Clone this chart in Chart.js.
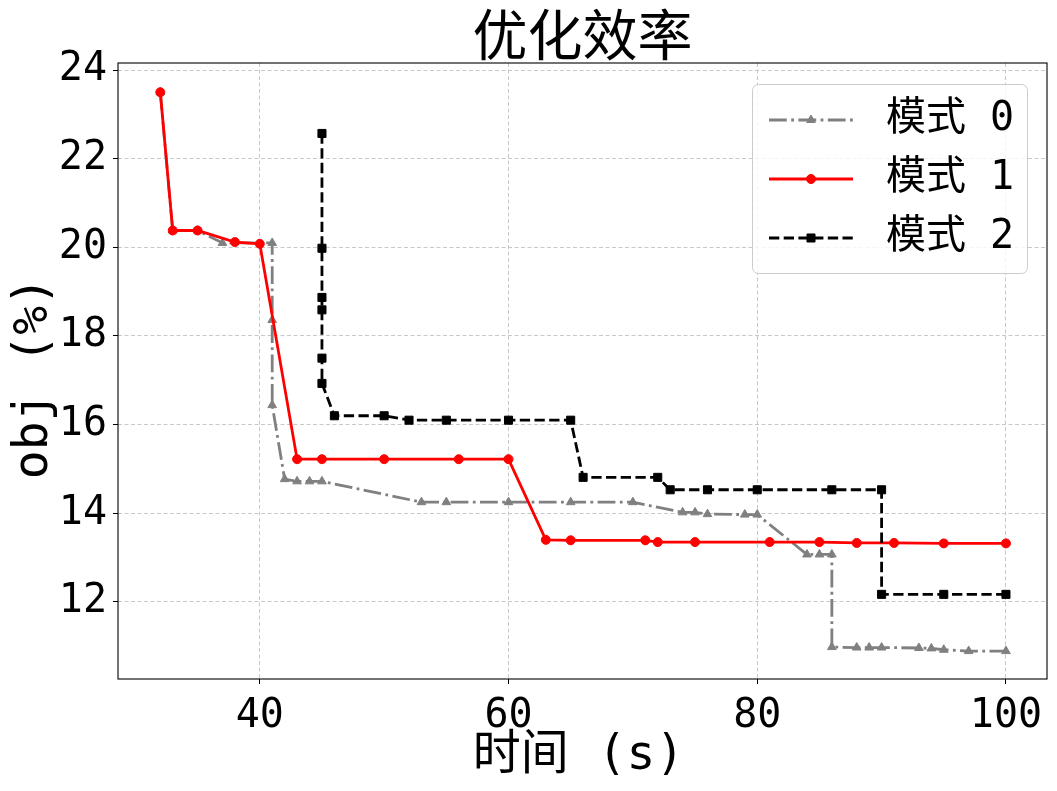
<!DOCTYPE html>
<html>
<head>
<meta charset="utf-8">
<script src="https://cdn.jsdelivr.net/npm/chart.js@4.4.1/dist/chart.umd.min.js"></script>
<style>
html,body{margin:0;padding:0;background:#fff;}
canvas{display:block;}
</style>
</head>
<body>
<canvas id="c" width="1057" height="791"></canvas>
<script>
// ---- data ----
const mode0X = [32, 33, 35, 37, 41, 41, 41, 42, 43, 44, 45, 53, 55, 60, 65, 70, 74, 75, 76, 79, 80, 84, 85, 86, 86, 88, 89, 90, 93, 94, 95, 97, 100];
const mode0Y = [23.5, 20.38, 20.38, 20.1, 20.1, 18.36, 16.44, 14.77, 14.72, 14.72, 14.72, 14.25, 14.25, 14.25, 14.25, 14.25, 14.02, 14.02, 13.98, 13.97, 13.97, 13.07, 13.07, 13.07, 10.98, 10.97, 10.97, 10.97, 10.96, 10.95, 10.92, 10.89, 10.89];
const mode1X = [32, 33, 35, 38, 40, 43, 45, 50, 56, 60, 63, 65, 71, 72, 75, 81, 85, 88, 91, 95, 100];
const mode1Y = [23.5, 20.38, 20.38, 20.12, 20.08, 15.22, 15.22, 15.22, 15.22, 15.22, 13.4, 13.39, 13.39, 13.35, 13.35, 13.35, 13.35, 13.33, 13.33, 13.32, 13.32];
const mode2X = [45, 45, 45, 45, 45, 45, 46, 50, 52, 55, 60, 65, 66, 72, 73, 76, 80, 86, 90, 90, 95, 100];
const mode2Y = [22.57, 19.98, 18.87, 18.59, 17.5, 16.93, 16.2, 16.2, 16.1, 16.1, 16.1, 16.1, 14.81, 14.81, 14.53, 14.53, 14.53, 14.53, 14.53, 12.17, 12.17, 12.17];
const seriesNames = ['模式 0', '模式 1', '模式 2'];
const xTicks = [40, 60, 80, 100];
const yTicks = [12, 14, 16, 18, 20, 22, 24];
const titleText = '优化效率';
const xTitle = '时间 (s)';
const yTitle = 'obj (%)';

const pts = (xs, ys) => xs.map((x, i) => ({x: x, y: ys[i]}));
const FONT = '"DejaVu Sans Mono", "Noto Sans CJK SC", sans-serif';

const datasets = [
  {label: seriesNames[0], data: pts(mode0X, mode0Y), borderColor: '#808080', backgroundColor: '#808080',
   borderWidth: 2.8, borderDash: [17.8, 4.4, 2.8, 4.4], pointStyle: 'triangle', pointRadius: 5, pointBorderWidth: 1, order: 2},
  {label: seriesNames[1], data: pts(mode1X, mode1Y), borderColor: '#ff0000', backgroundColor: '#ff0000',
   borderWidth: 2.8, borderDash: [], pointStyle: 'circle', pointRadius: 4.5, pointBorderWidth: 1, order: 1},
  {label: seriesNames[2], data: pts(mode2X, mode2Y), borderColor: '#000000', backgroundColor: '#000000',
   borderWidth: 2.8, borderDash: [10.3, 4.4], pointStyle: 'rect', pointRadius: 5.7, pointBorderWidth: 1, order: 0}
];
datasets.forEach(d => { d.tension = 0; d.fill = false; d.pointBorderColor = d.borderColor; d.pointBackgroundColor = d.borderColor; d.pointHoverRadius = d.pointRadius; });

const decor = {
  id: 'decor',
  afterDatasetsDraw(chart) {
    const ctx = chart.ctx, a = chart.chartArea;
    ctx.save();
    ctx.strokeStyle = '#000';
    ctx.lineWidth = 1.1;
    ctx.setLineDash([]);
    ctx.strokeRect(a.left, a.top, a.right - a.left, a.bottom - a.top);
    ctx.restore();
  },
  afterDraw(chart) {
    const ctx = chart.ctx, a = chart.chartArea;
    ctx.save();
    ctx.fillStyle = '#000';
    // title
    ctx.font = '55px "Noto Sans CJK SC", sans-serif';
    ctx.textAlign = 'center';
    ctx.textBaseline = 'middle';
    ctx.fillText(titleText, (a.left + a.right) / 2, 34);
    // x title
    ctx.font = '48px ' + FONT;
    ctx.fillText(xTitle, (a.left + a.right) / 2 - 4, 757);
    // y title
    ctx.save();
    ctx.translate(35, 378);
    ctx.rotate(-Math.PI / 2);
    ctx.fillText(yTitle, 0, 0);
    ctx.restore();
    // legend
    const lx = 752.5, ly = 84.5, lw = 275, lh = 189, r = 6;
    ctx.beginPath();
    ctx.moveTo(lx + r, ly);
    ctx.arcTo(lx + lw, ly, lx + lw, ly + lh, r);
    ctx.arcTo(lx + lw, ly + lh, lx, ly + lh, r);
    ctx.arcTo(lx, ly + lh, lx, ly, r);
    ctx.arcTo(lx, ly, lx + lw, ly, r);
    ctx.closePath();
    ctx.fillStyle = 'rgba(255,255,255,0.8)';
    ctx.fill();
    ctx.strokeStyle = '#cccccc';
    ctx.lineWidth = 1;
    ctx.stroke();
    const rows = [120, 179, 238];
    chart.data.datasets.forEach((d, i) => {
      const y = rows[i];
      ctx.save();
      ctx.strokeStyle = d.borderColor;
      ctx.lineWidth = d.borderWidth;
      ctx.setLineDash(d.borderDash);
      ctx.beginPath();
      ctx.moveTo(769, y);
      ctx.lineTo(853, y);
      ctx.stroke();
      ctx.setLineDash([]);
      ctx.fillStyle = d.borderColor;
      ctx.strokeStyle = d.borderColor;
      ctx.lineWidth = d.pointBorderWidth;
      Chart.helpers.drawPoint(ctx, {pointStyle: d.pointStyle, radius: d.pointRadius, borderWidth: d.pointBorderWidth, rotation: 0}, 811, y);
      ctx.restore();
      ctx.fillStyle = '#000';
      ctx.font = '40px ' + FONT;
      ctx.textAlign = 'left';
      ctx.textBaseline = 'middle';
      ctx.fillText(d.label, 886, y);
    });
    ctx.restore();
  }
};

const gridOpts = {color: '#c8c8c8', lineWidth: 1, tickColor: '#000', tickBorderDash: [1, 0], tickLength: 5, tickWidth: 1};
const borderOpts = {display: false, dash: [4, 2.5]};

new Chart(document.getElementById('c'), {
  type: 'line',
  data: {datasets: datasets},
  options: {
    responsive: false,
    animation: false,
    events: [],
    layout: {padding: {left: 0, top: 63, right: 10, bottom: 0}},
    plugins: {legend: {display: false}, title: {display: false}, tooltip: {enabled: false}},
    scales: {
      x: {
        type: 'linear', min: 28.6, max: 103.3,
        afterBuildTicks: s => { s.ticks = xTicks.map(v => ({value: v})); },
        afterFit: s => { s.height = 112; },
        border: borderOpts,
        grid: gridOpts,
        ticks: {color: '#000', font: {family: FONT, size: 40}, padding: 9, maxRotation: 0, autoSkip: false}
      },
      y: {
        type: 'linear', min: 10.26, max: 24.16,
        afterBuildTicks: s => { s.ticks = yTicks.map(v => ({value: v})); },
        afterFit: s => { s.width = 118; },
        border: borderOpts,
        grid: gridOpts,
        ticks: {color: '#000', font: {family: FONT, size: 40}, padding: 6, autoSkip: false}
      }
    }
  },
  plugins: [decor]
});
</script>
</body>
</html>
